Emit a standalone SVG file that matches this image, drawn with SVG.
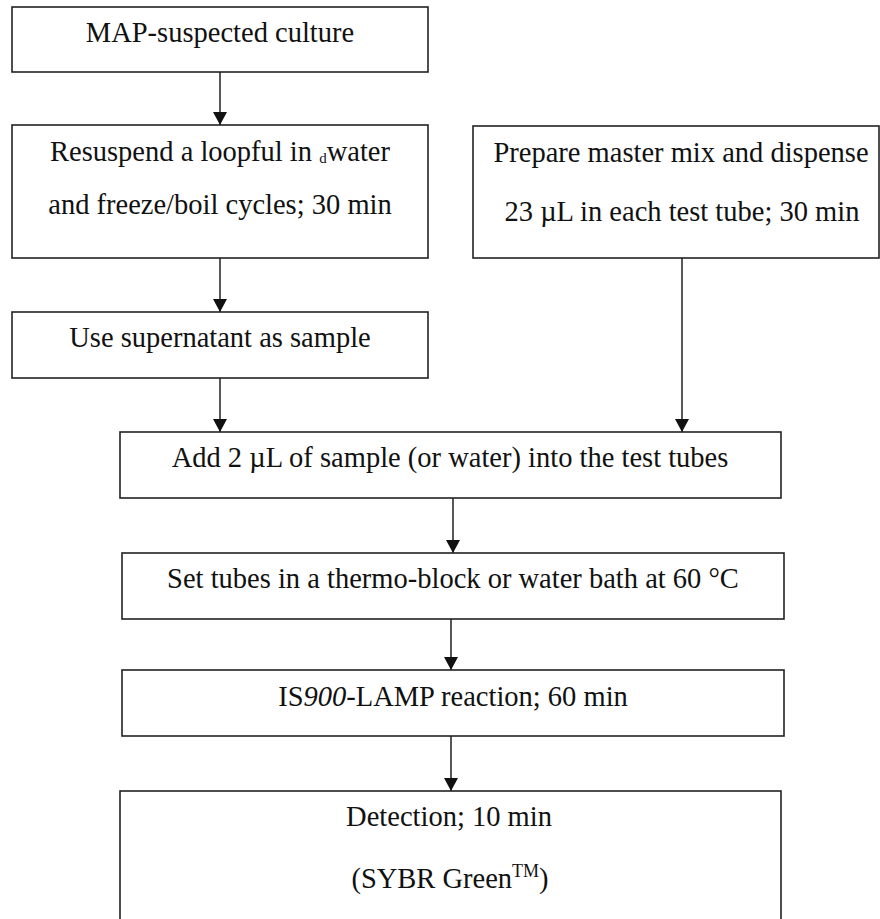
<svg xmlns="http://www.w3.org/2000/svg" width="880" height="919" viewBox="0 0 880 919">
<style>
.box{fill:#fff;stroke:#222;stroke-width:1.6}
.t{font-family:"Liberation Serif","Times New Roman",serif;font-size:28.5px;fill:#111;text-anchor:middle}
.c{stroke:#111;stroke-width:1.4;fill:none;marker-end:url(#ah)}
</style>
<defs>
<marker id="ah" markerUnits="userSpaceOnUse" markerWidth="13" markerHeight="14" refX="13" refY="7" orient="auto">
<path d="M0,0 L13,7 L0,14 z" fill="#111"/>
</marker>
</defs>
<rect width="880" height="919" fill="#fff"/>
<g id="connectors">
<line class="c" x1="220" y1="72" x2="220" y2="125"/>
<line class="c" x1="220" y1="258" x2="220" y2="312"/>
<line class="c" x1="220" y1="378" x2="220" y2="432"/>
<line class="c" x1="682" y1="258" x2="682" y2="432"/>
<line class="c" x1="453" y1="498" x2="453" y2="553"/>
<line class="c" x1="451" y1="619" x2="451" y2="670"/>
<line class="c" x1="451" y1="736" x2="451" y2="791"/>
</g>
<g id="n1">
<rect class="box" x="12" y="7" width="416" height="65"/>
<text class="t" x="220" y="42">MAP-suspected culture</text>
</g>
<g id="n2">
<rect class="box" x="12" y="125" width="416" height="133"/>
<text class="t" x="220" y="161">Resuspend a loopful in <tspan font-size="15" dy="2">d</tspan><tspan dy="-2">water</tspan></text>
<text class="t" x="220" y="214">and freeze/boil cycles; 30 min</text>
</g>
<g id="n3">
<rect class="box" x="12" y="312" width="416" height="66"/>
<text class="t" x="220" y="347">Use supernatant as sample</text>
</g>
<g id="n4">
<rect class="box" x="473" y="126" width="406" height="132"/>
<text class="t" x="681" y="162">Prepare master mix and dispense</text>
<text class="t" x="682" y="221">23 µL in each test tube; 30 min</text>
</g>
<g id="n5">
<rect class="box" x="120" y="432" width="661" height="66"/>
<text class="t" x="450" y="467">Add 2 µL of sample (or water) into the test tubes</text>
</g>
<g id="n6">
<rect class="box" x="122" y="553" width="662" height="66"/>
<text class="t" x="453" y="588">Set tubes in a thermo-block or water bath at 60 °C</text>
</g>
<g id="n7">
<rect class="box" x="122" y="670" width="662" height="66"/>
<text class="t" x="453" y="706">IS<tspan font-style="italic">900</tspan>-LAMP reaction; 60 min</text>
</g>
<g id="n8">
<rect class="box" x="120" y="791" width="661" height="140"/>
<text class="t" x="449" y="826">Detection; 10 min</text>
<text class="t" x="450" y="888">(SYBR Green<tspan font-size="18" dy="-11">TM</tspan><tspan dy="11">)</tspan></text>
</g>
</svg>
